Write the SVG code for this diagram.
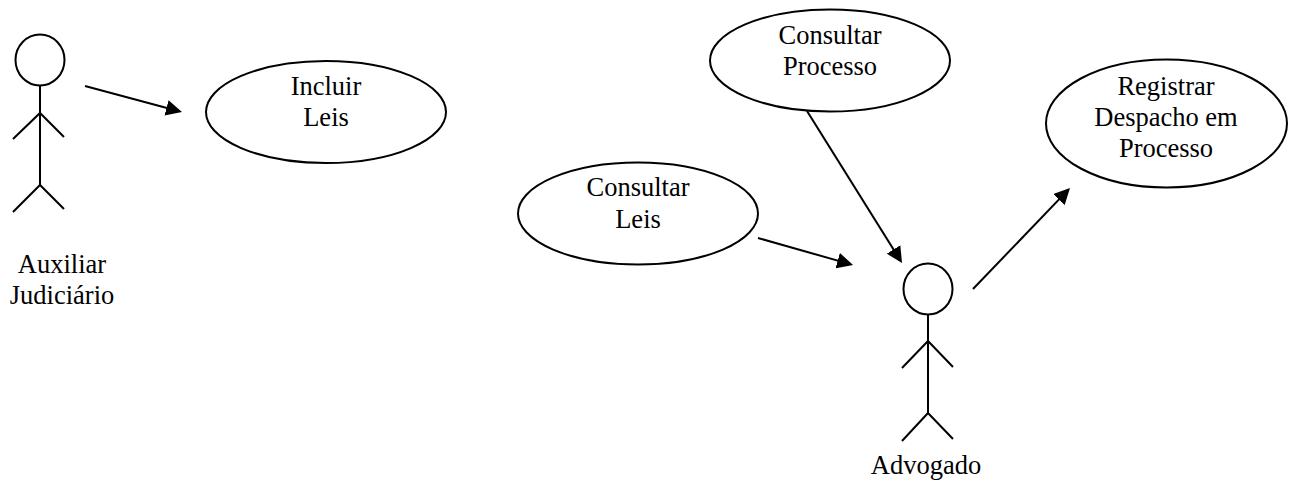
<svg xmlns="http://www.w3.org/2000/svg" width="1294" height="481" viewBox="0 0 1294 481">
<style>
.s{fill:none;stroke:#000;stroke-width:2}
.e{fill:#fff;stroke:#000;stroke-width:2}
text{font-family:"Liberation Serif","Times New Roman",serif;font-size:26.5px;fill:#000;text-anchor:middle}
</style>
<defs><marker id="a" markerUnits="userSpaceOnUse" markerWidth="18" markerHeight="16" refX="12" refY="8" orient="auto"><path d="M0 0L16 8L0 16Z" fill="#000"/></marker></defs>
<rect width="1294" height="481" fill="#fff"/>
<g id="actor-auxiliar"><ellipse class="s" cx="40" cy="60" rx="24.5" ry="25.5"/><path class="s" d="M40 86V185M13 139L40 113L64 137M13 212L40 185L64 209"/><text x="62" y="273">Auxiliar</text><text x="62" y="304">Judiciário</text></g>
<g id="uc-incluir"><ellipse class="e" cx="326" cy="112" rx="120" ry="51"/><text x="326" y="95">Incluir</text><text x="326" y="126">Leis</text></g>
<g id="uc-consultar-processo"><ellipse class="e" cx="830" cy="60.500" rx="120" ry="51"/><text x="830" y="44">Consultar</text><text x="830" y="75">Processo</text></g>
<g id="uc-registrar"><ellipse class="e" cx="1166.500" cy="123.500" rx="120.500" ry="64"/><text x="1166" y="95">Registrar</text><text x="1166" y="126">Despacho em</text><text x="1166" y="157">Processo</text></g>
<g id="uc-consultar-leis"><ellipse class="e" cx="638" cy="213.500" rx="120" ry="51"/><text x="638" y="196">Consultar</text><text x="638" y="228">Leis</text></g>
<g id="actor-advogado"><ellipse class="s" cx="928" cy="289" rx="24.5" ry="25.5"/><path class="s" d="M928 315V413M902 368L928 341L953 367M902 441L928 413L953 439"/><text x="926" y="474">Advogado</text></g>
<g id="connectors"><path class="s" marker-end="url(#a)" d="M85 86L178.100 111"/><path class="s" marker-end="url(#a)" d="M807 111L899.900 259.600"/><path class="s" marker-end="url(#a)" d="M758 238L849.200 263.900"/><path class="s" marker-end="url(#a)" d="M973 289L1067.200 190.900"/></g>
</svg>
